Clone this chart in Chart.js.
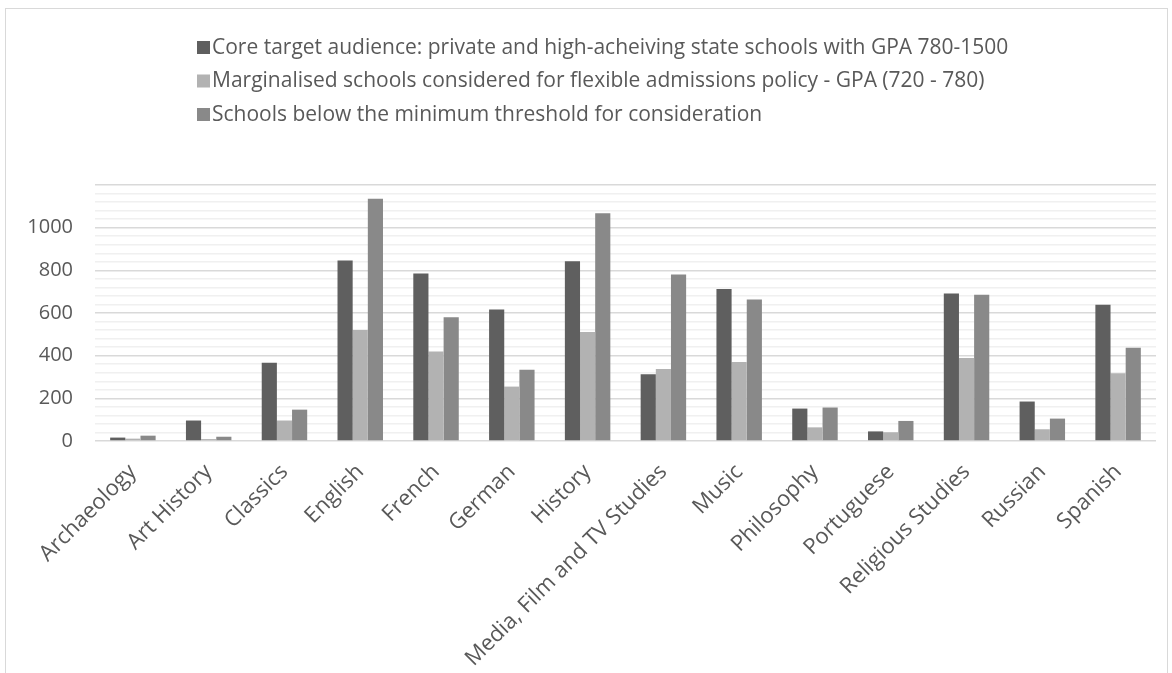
<!DOCTYPE html>
<html>
<head>
  <title>Applicants by subject</title>
  <script src="https://cdn.jsdelivr.net/npm/chart.js@4/dist/chart.umd.min.js"></script>
  <style>
    body { margin: 0; background: #fff; }
    #frame {
      position: absolute;
      left: 5px;
      top: 8px;
      width: 1161px;
      height: 700px;
      border: 1px solid #d9d9d9;
    }
    #chart {
      position: absolute;
      left: 0;
      top: 0;
    }
  </style>
</head>
<body>
  <div id="frame"></div>
  <canvas id="chart" width="1172" height="673"></canvas>
  <script>
    var subjects = ['Archaeology', 'Art History', 'Classics', 'English', 'French', 'German', 'History',
      'Media, Film and TV Studies', 'Music', 'Philosophy', 'Portuguese', 'Religious Studies', 'Russian', 'Spanish'];

    var coreValues = [16, 96, 367, 846, 785, 616, 843, 313, 713, 152, 45, 691, 185, 639];
    var marginalValues = [11, 9, 96, 520, 420, 255, 511, 337, 370, 64, 41, 389, 55, 318];
    var belowValues = [25, 20, 147, 1136, 580, 334, 1067, 781, 663, 157, 94, 686, 105, 437];

    var seriesNames = [
      'Core target audience: private and high-acheiving state schools with GPA 780-1500',
      'Marginalised schools considered for flexible admissions policy - GPA (720 - 780)',
      'Schools below the minimum threshold for consideration'
    ];
    var seriesColors = ['#5f5f5f', '#b2b2b2', '#898989'];

    var textColor = '#595959';
    var fontFamily = '"Open Sans", sans-serif';

    // excel style legend: one item per line, all starting at the same x
    var stackedLegend = {
      id: 'stackedLegend',
      afterDraw: function (chart) {
        var ctx = chart.ctx;
        ctx.save();
        ctx.font = '21px ' + fontFamily;
        ctx.textBaseline = 'middle';
        chart.data.datasets.forEach(function (ds, i) {
          var y = 47 + i * 33.5;
          ctx.fillStyle = ds.backgroundColor;
          ctx.fillRect(197, y - 6, 13, 13);
          ctx.fillStyle = textColor;
          ctx.fillText(ds.label, 212, y + 1);
        });
        ctx.restore();
      }
    };

    var ctx = document.getElementById('chart').getContext('2d');
    new Chart(ctx, {
      type: 'bar',
      data: {
        labels: subjects,
        datasets: [
          { label: seriesNames[0], data: coreValues, backgroundColor: seriesColors[0] },
          { label: seriesNames[1], data: marginalValues, backgroundColor: seriesColors[1] },
          { label: seriesNames[2], data: belowValues, backgroundColor: seriesColors[2] }
        ]
      },
      options: {
        responsive: false,
        animation: false,
        categoryPercentage: 0.6,
        barPercentage: 1.0,
        layout: { padding: { top: 185, right: 16, left: 0, bottom: 0 } },
        plugins: {
          legend: { display: false },
          tooltip: { enabled: false }
        },
        scales: {
          x: {
            grid: { display: false },
            border: { display: false },
            ticks: {
              color: textColor,
              font: { family: fontFamily, size: 22 },
              maxRotation: 45,
              minRotation: 45,
              autoSkip: false,
              padding: 10
            },
            afterFit: function (scale) { scale.height = 232; }
          },
          y: {
            min: 0,
            max: 1200,
            border: { display: false },
            grid: {
              drawTicks: false,
              color: function (c) {
                return c.tick.value % 200 === 0 ? '#d9d9d9' : '#f0f0f0';
              },
              lineWidth: 1.5
            },
            ticks: {
              stepSize: 40,
              autoSkip: false,
              color: textColor,
              font: { family: fontFamily, size: 20 },
              padding: 22,
              callback: function (v) {
                return (v % 200 === 0 && v < 1200) ? v : '';
              }
            },
            afterFit: function (scale) { scale.width = 95; }
          }
        }
      },
      plugins: [stackedLegend]
    });
  </script>
</body>
</html>
